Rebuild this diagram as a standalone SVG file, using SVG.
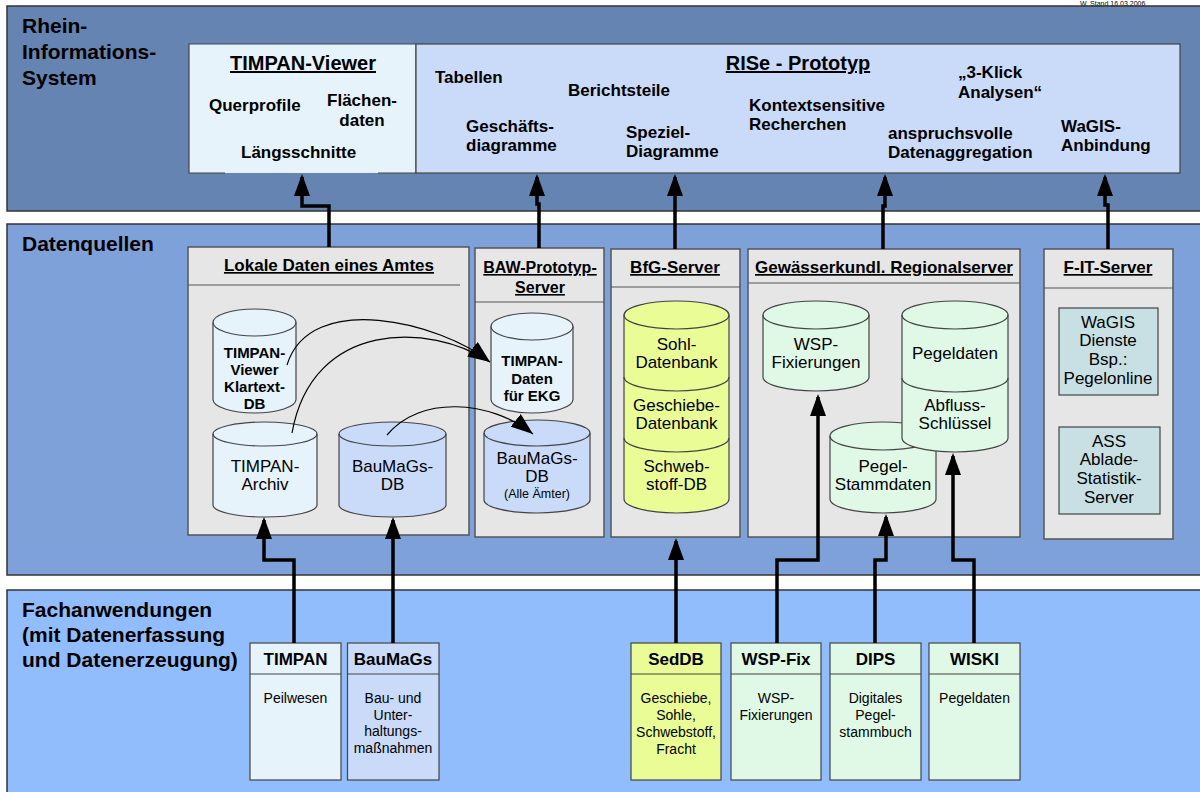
<svg xmlns="http://www.w3.org/2000/svg" width="1200" height="792" viewBox="0 0 1200 792">
<style>
text{font-family:"Liberation Sans",Arial,sans-serif;fill:#000}
.b{font-weight:bold}
.lbl{font-size:21px;font-weight:bold}
.ht{font-size:20px;font-weight:bold;text-decoration:underline}
.ct{font-size:17px;font-weight:bold;text-decoration:underline}
.rt{font-size:17px;font-weight:bold}
.cb{font-size:15px;font-weight:bold}
.cr{font-size:17px}
.bt{font-size:17px;font-weight:bold}
.bb{font-size:14px}
.band{stroke:#333;stroke-width:1.5}
.cont{fill:#e6e6e6;stroke:#555;stroke-width:1.5}
.cyl{stroke:#444;stroke-width:1.2}
.arc{fill:none;stroke:#444;stroke-width:1.2}
.lb{fill:#e6f3fa}
.mb{fill:#c9dbf9}
.yl{fill:#eafc96}
.mt{fill:#e0f9e6}
.tl{fill:#c8e0e4}
.box{stroke:#444;stroke-width:1.2}
.con{fill:none;stroke:#000;stroke-width:3.5;marker-end:url(#ah)}
.cur{fill:none;stroke:#000;stroke-width:1.2;marker-end:url(#ahs)}
</style>
<defs>
<marker id="ah" markerUnits="userSpaceOnUse" markerWidth="22" markerHeight="16" refX="19" refY="8" orient="auto"><path d="M0,0 L22,8 L0,16 Z" fill="#000"/></marker>
<marker id="ahs" markerUnits="userSpaceOnUse" markerWidth="22" markerHeight="16" refX="22" refY="8" orient="auto"><path d="M0,0 L22,8 L0,16 Z" fill="#000"/></marker>
</defs>

<text x="1080" y="5.5" style="font-size:7px">W, Stand 16.03.2006</text>

<g id="band-ris">
<rect x="7" y="6" width="1200" height="205" fill="#6584b1" class="band"/>
<text class="lbl" x="22" y="33">Rhein-</text>
<text class="lbl" x="22" y="59">Informations-</text>
<text class="lbl" x="22" y="85">System</text>
</g>
<g id="band-datenquellen">
<rect x="7" y="224" width="1200" height="351" fill="#7ea1da" class="band"/>
<text class="lbl" x="22" y="251">Datenquellen</text>
</g>
<g id="band-fach">
<rect x="7" y="590" width="1200" height="210" fill="#92bdfd" class="band"/>
<text class="lbl" x="22" y="617">Fachanwendungen</text>
<text class="lbl" x="22" y="642">(mit Datenerfassung</text>
<text class="lbl" x="22" y="667">und Datenerzeugung)</text>
</g>

<g id="timpan-viewer">
<rect x="189" y="44" width="227" height="129" class="lb"/>
<path d="M225,173 H189 V44 H416 V173 H378" fill="none" stroke="#444" stroke-width="1.2"/>
<text class="ht" x="303" y="70" text-anchor="middle">TIMPAN-Viewer</text>
<text class="rt" x="209" y="111">Querprofile</text>
<text class="rt" x="362" y="106" text-anchor="middle">Flächen-</text>
<text class="rt" x="362" y="126" text-anchor="middle">daten</text>
<text class="rt" x="241" y="158">Längsschnitte</text>
</g>
<g id="rise-prototyp">
<rect x="416" y="44" width="764" height="129" class="mb box"/>
<text class="ht" x="798" y="70" text-anchor="middle">RISe - Prototyp</text>
<text class="rt" x="435" y="83">Tabellen</text>
<text class="rt" x="568" y="96">Berichtsteile</text>
<text class="rt" x="466" y="132">Geschäfts-</text>
<text class="rt" x="466" y="151">diagramme</text>
<text class="rt" x="626" y="138">Speziel-</text>
<text class="rt" x="626" y="157">Diagramme</text>
<text class="rt" x="749" y="111">Kontextsensitive</text>
<text class="rt" x="749" y="130">Recherchen</text>
<text class="rt" x="958" y="78">„3-Klick</text>
<text class="rt" x="958" y="98">Analysen“</text>
<text class="rt" x="888" y="139">anspruchsvolle</text>
<text class="rt" x="888" y="158">Datenaggregation</text>
<text class="rt" x="1061" y="132">WaGIS-</text>
<text class="rt" x="1061" y="151">Anbindung</text>
</g>

<g id="lokale-daten">
<rect x="188" y="247" width="281" height="288" class="cont"/>
<path d="M188,285 H460" stroke="#555" stroke-width="1.2"/>
<text class="ct" x="329" y="271" text-anchor="middle">Lokale Daten eines Amtes</text>
</g>
<g id="baw-server">
<rect x="475" y="248" width="129" height="289" class="cont"/>
<path d="M475,302 H604" stroke="#555" stroke-width="1.2"/>
<text class="ct" x="540" y="273" text-anchor="middle" style="font-size:16px">BAW-Prototyp-</text>
<text class="ct" x="540" y="293" text-anchor="middle" style="font-size:16px">Server</text>
</g>
<g id="bfg-server">
<rect x="611" y="249" width="129" height="288" class="cont"/>
<path d="M611,287 H740" stroke="#555" stroke-width="1.2"/>
<text class="ct" x="675" y="273" text-anchor="middle">BfG-Server</text>
</g>
<g id="gewaesser-server">
<rect x="748" y="249" width="272" height="288" class="cont"/>
<path d="M748,283 H1020" stroke="#555" stroke-width="1.2"/>
<text class="ct" x="884" y="273" text-anchor="middle">Gewässerkundl. Regionalserver</text>
</g>
<g id="fit-server">
<rect x="1044" y="249" width="129" height="290" class="cont"/>
<path d="M1044,288 H1173" stroke="#555" stroke-width="1.2"/>
<text class="ct" x="1108" y="273" text-anchor="middle">F-IT-Server</text>
</g>

<g id="cyl-klartext">
<path class="cyl lb" d="M213,322.5 V399.5 A41.5,13.5 0 0 0 296,399.5 V322.5 A41.5,13.5 0 0 0 213,322.5 Z"/>
<path class="arc" d="M213,322.5 A41.5,13.5 0 0 0 296,322.5"/>
<text class="cb" x="254.5" y="358" text-anchor="middle">TIMPAN-</text>
<text class="cb" x="254.5" y="375" text-anchor="middle">Viewer</text>
<text class="cb" x="254.5" y="392" text-anchor="middle">Klartext-</text>
<text class="cb" x="254.5" y="409" text-anchor="middle">DB</text>
</g>
<g id="cyl-timpan-archiv">
<path class="cyl lb" d="M213,434 V505 A52,12 0 0 0 317,505 V434 A52,12 0 0 0 213,434 Z"/>
<path class="arc" d="M213,434 A52,12 0 0 0 317,434"/>
<text class="cr" x="265" y="472" text-anchor="middle">TIMPAN-</text>
<text class="cr" x="265" y="490" text-anchor="middle">Archiv</text>
</g>
<g id="cyl-baumags-lokal">
<path class="cyl mb" d="M339,434 V505 A53.5,12 0 0 0 446,505 V434 A53.5,12 0 0 0 339,434 Z"/>
<path class="arc" d="M339,434 A53.5,12 0 0 0 446,434"/>
<text class="cr" x="392.5" y="472" text-anchor="middle">BauMaGs-</text>
<text class="cr" x="392.5" y="490" text-anchor="middle">DB</text>
</g>
<g id="cyl-timpan-ekg">
<path class="cyl lb" d="M491,326.5 V399.5 A41,13.5 0 0 0 573,399.5 V326.5 A41,13.5 0 0 0 491,326.5 Z"/>
<path class="arc" d="M491,326.5 A41,13.5 0 0 0 573,326.5"/>
<text class="cb" x="532" y="366" text-anchor="middle">TIMPAN-</text>
<text class="cb" x="532" y="384" text-anchor="middle">Daten</text>
<text class="cb" x="532" y="401" text-anchor="middle">für EKG</text>
</g>
<g id="cyl-baumags-alle">
<path class="cyl mb" d="M484,433 V500 A53,13 0 0 0 590,500 V433 A53,13 0 0 0 484,433 Z"/>
<path class="arc" d="M484,433 A53,13 0 0 0 590,433"/>
<text class="cr" x="537" y="464" text-anchor="middle">BauMaGs-</text>
<text class="cr" x="537" y="482" text-anchor="middle">DB</text>
<text x="537" y="498" text-anchor="middle" style="font-size:12.5px">(Alle Ämter)</text>
</g>
<g id="cyl-sohl">
<path class="cyl yl" d="M624,315 V499 A52.5,14 0 0 0 729,499 V315 A52.5,14 0 0 0 624,315 Z"/>
<path class="arc" d="M624,315 A52.5,14 0 0 0 729,315"/>
<path class="arc" d="M624,377 A52.5,14 0 0 0 729,377"/>
<path class="arc" d="M624,438 A52.5,14 0 0 0 729,438"/>
<text class="cr" x="676.5" y="350" text-anchor="middle">Sohl-</text>
<text class="cr" x="676.5" y="368" text-anchor="middle">Datenbank</text>
<text class="cr" x="676.5" y="411" text-anchor="middle">Geschiebe-</text>
<text class="cr" x="676.5" y="429" text-anchor="middle">Datenbank</text>
<text class="cr" x="676.5" y="472" text-anchor="middle">Schweb-</text>
<text class="cr" x="676.5" y="490" text-anchor="middle">stoff-DB</text>
</g>
<g id="cyl-wsp">
<path class="cyl mt" d="M763,315 V377 A53,14 0 0 0 869,377 V315 A53,14 0 0 0 763,315 Z"/>
<path class="arc" d="M763,315 A53,14 0 0 0 869,315"/>
<text class="cr" x="816" y="350" text-anchor="middle">WSP-</text>
<text class="cr" x="816" y="368" text-anchor="middle">Fixierungen</text>
</g>
<g id="cyl-pegelstamm">
<path class="cyl mt" d="M830,436 V499 A53,14 0 0 0 936,499 V436 A53,14 0 0 0 830,436 Z"/>
<path class="arc" d="M830,436 A53,14 0 0 0 936,436"/>
<text class="cr" x="883" y="472" text-anchor="middle">Pegel-</text>
<text class="cr" x="883" y="490" text-anchor="middle">Stammdaten</text>
</g>
<g id="cyl-pegeldaten">
<path class="cyl mt" d="M902,315 V438 A53,14 0 0 0 1008,438 V315 A53,14 0 0 0 902,315 Z"/>
<path class="arc" d="M902,315 A53,14 0 0 0 1008,315"/>
<path class="arc" d="M902,378 A53,14 0 0 0 1008,378"/>
<text class="cr" x="955" y="359" text-anchor="middle">Pegeldaten</text>
<text class="cr" x="955" y="411" text-anchor="middle">Abfluss-</text>
<text class="cr" x="955" y="429" text-anchor="middle">Schlüssel</text>
</g>
<g id="box-wagis">
<rect x="1059" y="308" width="99" height="87" class="tl box"/>
<text class="cr" x="1108" y="328" text-anchor="middle">WaGIS</text>
<text class="cr" x="1108" y="346" text-anchor="middle">Dienste</text>
<text class="cr" x="1108" y="365" text-anchor="middle">Bsp.:</text>
<text class="cr" x="1108" y="384" text-anchor="middle">Pegelonline</text>
</g>
<g id="box-ass">
<rect x="1059" y="427" width="101" height="87" class="tl box"/>
<text class="cr" x="1109" y="447" text-anchor="middle">ASS</text>
<text class="cr" x="1109" y="465" text-anchor="middle">Ablade-</text>
<text class="cr" x="1109" y="484" text-anchor="middle">Statistik-</text>
<text class="cr" x="1109" y="503" text-anchor="middle">Server</text>
</g>

<g id="app-timpan">
<rect x="250" y="643" width="91" height="137" class="lb box"/>
<path d="M250,674 H341" stroke="#444" stroke-width="1.2"/>
<text class="bt" x="295.5" y="665" text-anchor="middle">TIMPAN</text>
<text class="bb" x="295.5" y="703" text-anchor="middle">Peilwesen</text>
</g>
<g id="app-baumags">
<rect x="347.5" y="643" width="91.5" height="137" class="mb box"/>
<path d="M347.5,674 H439" stroke="#444" stroke-width="1.2"/>
<text class="bt" x="393" y="665" text-anchor="middle">BauMaGs</text>
<text class="bb" x="393" y="703" text-anchor="middle">Bau- und</text>
<text class="bb" x="393" y="719.5" text-anchor="middle">Unter-</text>
<text class="bb" x="393" y="736" text-anchor="middle">haltungs-</text>
<text class="bb" x="393" y="752.5" text-anchor="middle">maßnahmen</text>
</g>
<g id="app-seddb">
<rect x="631" y="643" width="90" height="137" class="yl box"/>
<path d="M631,674 H721" stroke="#444" stroke-width="1.2"/>
<text class="bt" x="676" y="665" text-anchor="middle">SedDB</text>
<text class="bb" x="676" y="703" text-anchor="middle">Geschiebe,</text>
<text class="bb" x="676" y="720" text-anchor="middle">Sohle,</text>
<text class="bb" x="676" y="737" text-anchor="middle">Schwebstoff,</text>
<text class="bb" x="676" y="754" text-anchor="middle">Fracht</text>
</g>
<g id="app-wspfix">
<rect x="731" y="643" width="90" height="137" class="mt box"/>
<path d="M731,674 H821" stroke="#444" stroke-width="1.2"/>
<text class="bt" x="776" y="665" text-anchor="middle">WSP-Fix</text>
<text class="bb" x="776" y="703" text-anchor="middle">WSP-</text>
<text class="bb" x="776" y="720" text-anchor="middle">Fixierungen</text>
</g>
<g id="app-dips">
<rect x="830" y="643" width="91" height="137" class="mt box"/>
<path d="M830,674 H921" stroke="#444" stroke-width="1.2"/>
<text class="bt" x="875.5" y="665" text-anchor="middle">DIPS</text>
<text class="bb" x="875.5" y="703" text-anchor="middle">Digitales</text>
<text class="bb" x="875.5" y="720" text-anchor="middle">Pegel-</text>
<text class="bb" x="875.5" y="737" text-anchor="middle">stammbuch</text>
</g>
<g id="app-wiski">
<rect x="929" y="643" width="91" height="137" class="mt box"/>
<path d="M929,674 H1020" stroke="#444" stroke-width="1.2"/>
<text class="bt" x="974.5" y="665" text-anchor="middle">WISKI</text>
<text class="bb" x="974.5" y="703" text-anchor="middle">Pegeldaten</text>
</g>

<g id="connectors">
<path class="con" d="M329,247 V206 H302 V177"/>
<path class="con" d="M539,248 V204 H537 V177"/>
<path class="con" d="M675,249 V177"/>
<path class="con" d="M883,249 V206 H885 V177"/>
<path class="con" d="M1108,249 V205 H1105 V177"/>
<path class="con" d="M294,643 V560 H264 V520"/>
<path class="con" d="M393,643 V520"/>
<path class="con" d="M676,643 V541"/>
<path class="con" d="M777,643 V560 H818 V397"/>
<path class="con" d="M875,643 V560 H886 V517"/>
<path class="con" d="M974,643 V560 H953 V456"/>
<path class="cur" d="M287,365 C310,290 440,322 490,362"/>
<path class="cur" d="M292,433 C312,320 430,322 490,362"/>
<path class="cur" d="M387,435 C420,395 490,400 533,434"/>
</g>
</svg>
